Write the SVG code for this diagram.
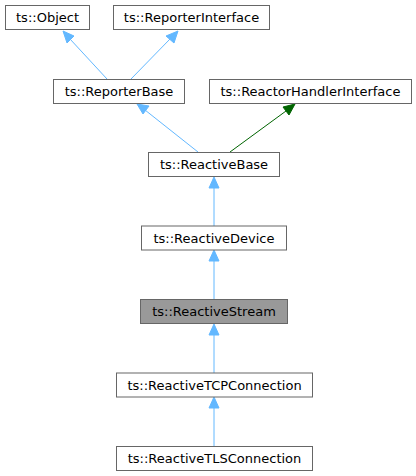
<svg xmlns="http://www.w3.org/2000/svg" width="416" height="476" viewBox="0 0 416 476">
<style>
.n rect{fill:#fff;stroke:#666;stroke-width:1}
.n.cur rect{fill:#999}
.n text{font-family:"DejaVu Sans",sans-serif;font-size:13px;fill:#000;text-anchor:middle}
.e{fill:none;stroke:#63b8ff;stroke-width:1}
.e.g{stroke:#006400}
.h{fill:#63b8ff;stroke:#63b8ff}
.h.g{fill:#006400;stroke:#006400}
</style>
<rect width="416" height="476" fill="#fff"/>
<g id="connectors">
<path class="e" d="M107,79 L70,39"/><polygon class="h" points="63,31 74,36 67,43"/>
<path class="e" d="M131,79 L170,39"/><polygon class="h" points="178,31 174,43 166,36"/>
<path class="e" d="M198,152 L145,110"/><polygon class="h" points="137,104 149,106 143,114"/>
<path class="e g" d="M230,152 L286,111"/><polygon class="h g" points="295,104 289,115 283,107"/>
<path class="e" d="M214,226 L214,188"/><polygon class="h" points="214,177 219,188 209,188"/>
<path class="e" d="M214,299 L214,261"/><polygon class="h" points="214,250 219,261 209,261"/>
<path class="e" d="M214,373 L214,335"/><polygon class="h" points="214,324 219,335 209,335"/>
<path class="e" d="M214,446 L214,408"/><polygon class="h" points="214,397 219,408 209,408"/>
</g>
<g id="node-object" class="n"><rect x="5.5" y="5.5" width="84" height="24"/><text x="47.5" y="22">ts::Object</text></g>
<g id="node-reporterinterface" class="n"><rect x="113.5" y="5.5" width="156" height="24"/><text x="191.5" y="22">ts::ReporterInterface</text></g>
<g id="node-reporterbase" class="n"><rect x="53.5" y="79.5" width="131" height="24"/><text x="119" y="96">ts::ReporterBase</text></g>
<g id="node-reactorhandlerinterface" class="n"><rect x="209.5" y="79.5" width="202" height="24"/><text x="310.5" y="96">ts::ReactorHandlerInterface</text></g>
<g id="node-reactivebase" class="n"><rect x="148.5" y="152.5" width="131" height="24"/><text x="214" y="169">ts::ReactiveBase</text></g>
<g id="node-reactivedevice" class="n"><rect x="141.5" y="226" width="145" height="24"/><text x="214" y="242.5">ts::ReactiveDevice</text></g>
<g id="node-reactivestream" class="n cur"><rect x="140.5" y="299.5" width="147" height="24"/><text x="214" y="316">ts::ReactiveStream</text></g>
<g id="node-reactivetcpconnection" class="n"><rect x="116.5" y="373" width="196" height="24"/><text x="214.5" y="389.5">ts::ReactiveTCPConnection</text></g>
<g id="node-reactivetlsconnection" class="n"><rect x="116.5" y="446.5" width="196" height="24"/><text x="214.5" y="463">ts::ReactiveTLSConnection</text></g>
</svg>
